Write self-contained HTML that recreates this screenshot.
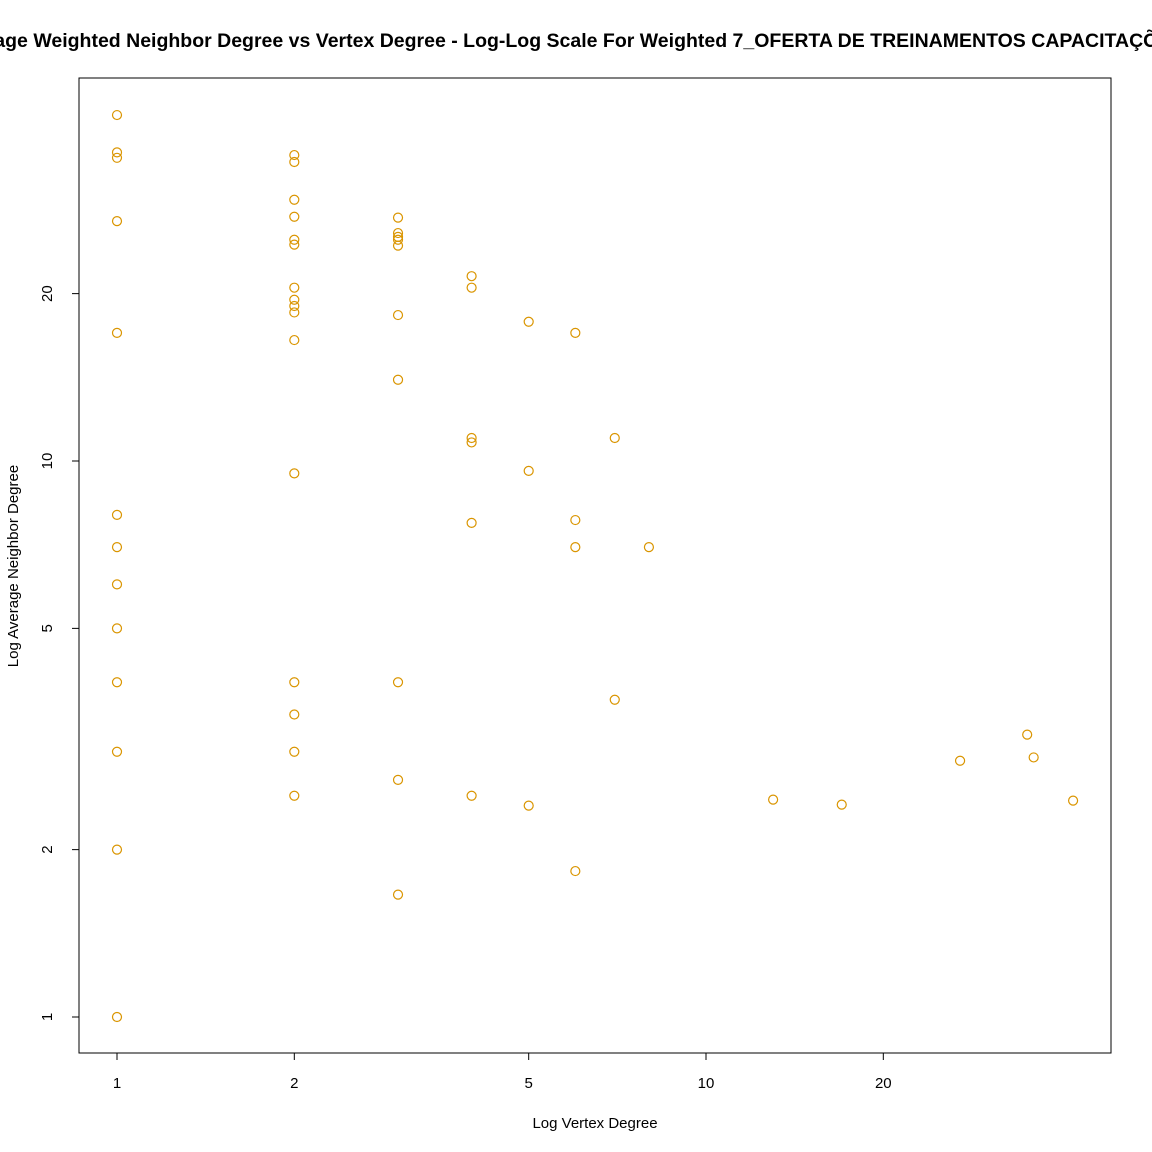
<!DOCTYPE html>
<html><head><meta charset="utf-8"><style>
html,body{margin:0;padding:0;background:#fff;width:1152px;height:1152px;overflow:hidden}
svg{display:block;font-family:"Liberation Sans",Arial,sans-serif}
</style></head><body>
<svg id="chart" width="1152" height="1152" viewBox="0 0 1152 1152">
<text x="568" y="47" text-anchor="middle" font-size="19.5" font-weight="bold">Average Weighted Neighbor Degree vs Vertex Degree - Log-Log Scale For Weighted 7_OFERTA DE TREINAMENTOS CAPACITAÇÕES</text>
<rect x="79" y="78" width="1032" height="975" fill="none" stroke="#000" stroke-width="1"/>
<g id="xaxis"></g>
<g id="yaxis"></g>
<g id="pts"></g>
<text x="595" y="1128" text-anchor="middle" font-size="15">Log Vertex Degree</text>
<text transform="translate(18,566) rotate(-90)" text-anchor="middle" font-size="15">Log Average Neighbor Degree</text>
</svg>
<script>
const xTicks = [1, 2, 5, 10, 20];
const yTicks = [1, 2, 5, 10, 20];
const degree = [1,1,1,1,1,1,1,1,1,1,1,1,1,
 2,2,2,2,2,2,2,2,2,2,2,2,2,2,2,2,
 3,3,3,3,3,3,3,3,3,3,
 4,4,4,4,4,4,
 5,5,5, 6,6,6,6, 7,7, 8,
 13,17,27,35.1,36,42];
const neighborDeg = [41.9,35.9,35.1,27.0,17.0,8.0,7.0,6.0,5.0,4.0,3.0,2.0,1.0,
 35.5,34.5,29.5,27.5,25.0,24.5,20.5,19.5,19.0,18.5,16.5,9.5,4.0,3.5,3.0,2.5,
 27.4,25.7,25.3,25.0,24.4,18.3,14.0,4.0,2.67,1.66,
 21.5,20.5,11.0,10.8,7.74,2.5,
 17.8,9.6,2.40, 17.0,7.83,7.0,1.83, 11.0,3.72, 7.0,
 2.46,2.41,2.89,3.22,2.93,2.45];
const NS="http://www.w3.org/2000/svg";
function xs(v){return 117+589*Math.log10(v);}
function ys(v){return 1017-556*Math.log10(v);}
const xa=document.getElementById('xaxis'), ya=document.getElementById('yaxis'), pg=document.getElementById('pts');
function mk(tag,attrs,parent){const e=document.createElementNS(NS,tag);for(const k in attrs)e.setAttribute(k,attrs[k]);parent.appendChild(e);return e;}
let l=mk('line',{x1:xs(1),x2:xs(20),y1:1053,y2:1053,stroke:'#000'},xa);


xTicks.forEach(t=>{
 const tk=mk('line',{x1:xs(t),x2:xs(t),y1:1053,y2:1060,stroke:'#000'},xa);
 
 
 const tx=mk('text',{x:xs(t),y:1088,'text-anchor':'middle','font-size':15},xa);
 tx.textContent=t;
 
 
});
let l2=mk('line',{x1:79,x2:79,y1:ys(1),y2:ys(20),stroke:'#000'},ya);


yTicks.forEach(t=>{
 const tk=mk('line',{x1:72,x2:79,y1:ys(t),y2:ys(t),stroke:'#000'},ya);
 
 
 const tx=mk('text',{transform:`translate(52,${ys(t)}) rotate(-90)`,'text-anchor':'middle','font-size':15},ya);
 tx.textContent=t;
 
 
});
degree.forEach((d,i)=>{
 const c=mk('circle',{cx:xs(d),cy:ys(neighborDeg[i]),r:4.5,fill:'none',stroke:'#DA9500','stroke-width':1.2},pg);
 
 
});
</script>
</body></html>
